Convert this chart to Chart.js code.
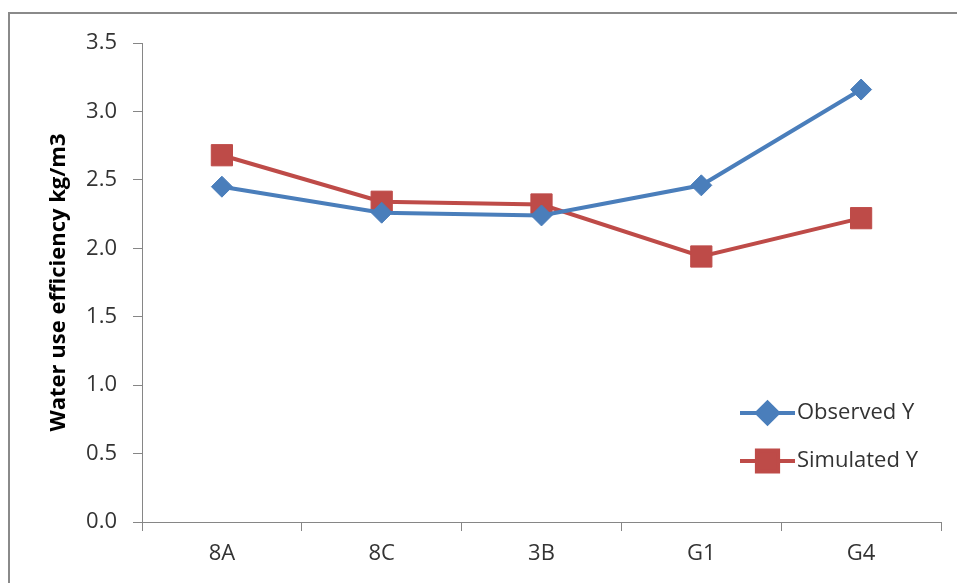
<!DOCTYPE html>
<html>
<head>
<meta charset="utf-8">
<script src="https://cdn.jsdelivr.net/npm/chart.js@4.4.0/dist/chart.umd.min.js"></script>
<style>
  html, body { margin: 0; padding: 0; background: #ffffff; }
  #wrap { width: 957px; height: 583px; position: relative; }
</style>
</head>
<body>
<div id="wrap"><canvas id="c" width="957" height="583"></canvas></div>
<script>
const categories = ['8A', '8C', '3B', 'G1', 'G4'];
const observedY = [2.45, 2.26, 2.24, 2.46, 3.16];
const simulatedY = [2.68, 2.34, 2.32, 1.94, 2.22];
const seriesNames = ['Observed Y', 'Simulated Y'];
const yTitle = 'Water use efficiency kg/m3';
const yMin = 0, yMax = 3.5, yStep = 0.5;

const BLUE = '#4a7ebb';
const RED = '#be4b48';
const AXIS = '#868686';
const TEXT = '#333333';
const FONT = '"Open Sans", "DejaVu Sans", sans-serif';

const framePlugin = {
  id: 'frame',
  beforeDraw(chart) {
    const ctx = chart.ctx;
    ctx.save();
    ctx.fillStyle = '#ffffff';
    ctx.fillRect(0, 0, chart.width, chart.height);
    ctx.strokeStyle = '#8a8a8a';
    ctx.lineWidth = 2;
    ctx.beginPath();
    ctx.moveTo(9, chart.height);
    ctx.lineTo(9, 13);
    ctx.lineTo(chart.width, 13);
    ctx.stroke();
    ctx.restore();
  }
};

const legendPlugin = {
  id: 'insideLegend',
  afterDatasetsDraw(chart) {
    const ctx = chart.ctx;
    const x0 = 740, x1 = 795, ys = [413, 461];
    chart.data.datasets.forEach((ds, i) => {
      const y = ys[i];
      ctx.save();
      ctx.strokeStyle = ds.borderColor;
      ctx.lineWidth = ds.borderWidth;
      ctx.beginPath();
      ctx.moveTo(x0, y);
      ctx.lineTo(x1, y);
      ctx.stroke();
      ctx.fillStyle = ds.pointBackgroundColor;
      ctx.strokeStyle = ds.pointBackgroundColor;
      Chart.helpers.drawPoint(ctx, {
        pointStyle: ds.pointStyle,
        radius: ds.pointRadius,
        borderWidth: 1
      }, (x0 + x1) / 2, y);
      ctx.fillStyle = TEXT;
      ctx.font = '22px ' + FONT;
      ctx.textAlign = 'left';
      ctx.textBaseline = 'middle';
      ctx.fillText(ds.label, x1 + 2, y);
      ctx.restore();
    });
  }
};

new Chart(document.getElementById('c'), {
  type: 'line',
  data: {
    labels: categories,
    datasets: [
      {
        label: seriesNames[0],
        data: observedY,
        borderColor: BLUE,
        backgroundColor: BLUE,
        pointBackgroundColor: BLUE,
        pointBorderColor: BLUE,
        borderWidth: 4,
        pointStyle: 'rectRot',
        pointRadius: 10.5,
        pointBorderWidth: 1,
        tension: 0
      },
      {
        label: seriesNames[1],
        data: simulatedY,
        borderColor: RED,
        backgroundColor: RED,
        pointBackgroundColor: RED,
        pointBorderColor: RED,
        borderWidth: 4,
        pointStyle: 'rect',
        pointRadius: 15,
        pointBorderWidth: 1,
        tension: 0
      }
    ]
  },
  options: {
    responsive: false,
    animation: false,
    devicePixelRatio: 1,
    layout: { padding: { left: 0, top: 43, right: 15, bottom: 0 } },
    plugins: {
      legend: { display: false },
      tooltip: { enabled: false },
      title: { display: false }
    },
    scales: {
      x: {
        offset: true,
        grid: {
          display: true,
          drawOnChartArea: false,
          drawTicks: true,
          tickLength: 9,
          offset: true,
          color: AXIS,
          lineWidth: 1
        },
        border: { display: true, color: AXIS, width: 1 },
        ticks: {
          color: TEXT,
          font: { family: FONT, size: 22 },
          padding: 10,
          maxRotation: 0
        },
        afterFit(scale) { scale.height = 61; }
      },
      y: {
        min: yMin,
        max: yMax,
        grid: {
          display: true,
          drawOnChartArea: false,
          drawTicks: true,
          tickLength: 9,
          color: AXIS,
          lineWidth: 1
        },
        border: { display: true, color: AXIS, width: 1 },
        ticks: {
          stepSize: yStep,
          color: TEXT,
          font: { family: FONT, size: 22 },
          padding: 16,
          callback: (v) => Number(v).toFixed(1)
        },
        title: {
          display: true,
          text: yTitle,
          color: '#000000',
          font: { family: FONT, size: 22, weight: 'bold' },
          padding: { top: 46, bottom: 0 }
        },
        afterFit(scale) { scale.width = 142; }
      }
    }
  },
  plugins: [framePlugin, legendPlugin]
});
</script>
</body>
</html>
